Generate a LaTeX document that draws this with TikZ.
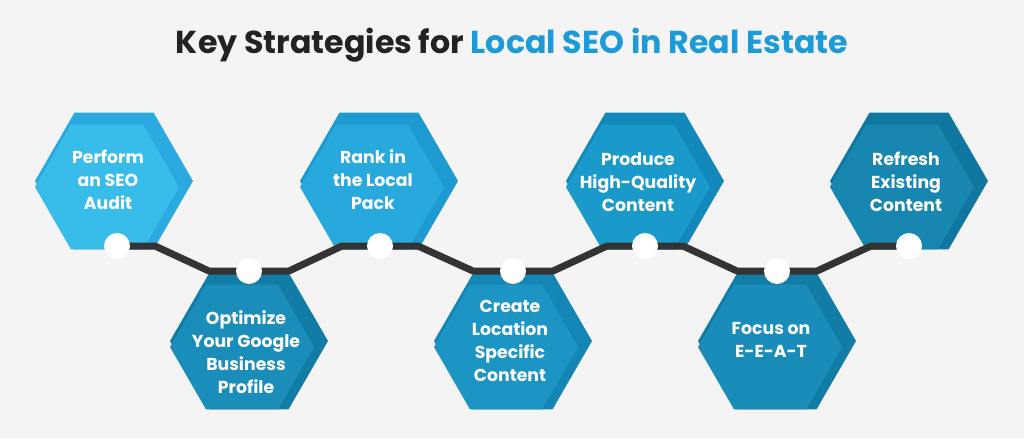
\documentclass[tikz,border=0pt]{standalone}
\usepackage{fontspec}
\setmainfont{Poppins}
\usetikzlibrary{calc, positioning}
\definecolor{bgc}{HTML}{F4F4F4}
\definecolor{ttl}{HTML}{222222}
\definecolor{ttb}{HTML}{1E9BD7}
\definecolor{lnk}{HTML}{333333}
\definecolor{inA}{HTML}{38BCEA}\definecolor{outA}{HTML}{2AAAE0}
\definecolor{inB}{HTML}{1B8DBA}\definecolor{outB}{HTML}{117DA7}
\definecolor{inC}{HTML}{28A9DD}\definecolor{outC}{HTML}{1D9AD0}
\definecolor{inD}{HTML}{1C95C4}\definecolor{outD}{HTML}{1386B5}
\definecolor{inE}{HTML}{1A9ACB}\definecolor{outE}{HTML}{1389BB}
\definecolor{inF}{HTML}{1A8CB9}\definecolor{outF}{HTML}{117DA7}
\definecolor{inG}{HTML}{1786B1}\definecolor{outG}{HTML}{0F77A0}
% hexagon: centre, outer colour, inner colour
\newcommand{\hexa}[3]{%
  \fill[#2] (#1) ++(79,0) -- ++(-39.5,-68.4) -- ++(-79,0) -- ++(-39.5,68.4)
    -- ++(39.5,68.4) -- ++(79,0) -- cycle;
  \fill[#3] ($(#1)+(-7,6)$) ++(72,0) -- ++(-36,-62.4) -- ++(-72,0) -- ++(-36,62.4)
    -- ++(36,62.4) -- ++(72,0) -- cycle;}
\begin{document}
\begin{tikzpicture}[x=1pt, y=-1pt,
    stage/.style={text=white, font=\fontsize{17.3}{23}\selectfont\bfseries, align=center},
    dot/.style={circle, fill=white, minimum size=26pt, inner sep=0pt},
    link/.style={lnk, line width=7pt, line join=round}]

    \fill[bgc] (0,0) rectangle (1024,439);
    \useasboundingbox (0,0) rectangle (1024,439);

    \node (title) at (512,45) {\fontsize{31.7}{36}\selectfont\bfseries
        \textcolor{ttl}{Key Strategies for} \textcolor{ttb}{Local SEO in Real Estate}};

    % hexagons, top row then bottom row
    \hexa{114,181}{outA}{inA}
    \hexa{249,341}{outB}{inB}
    \hexa{379,181}{outC}{inC}
    \hexa{513,341}{outD}{inD}
    \hexa{645,181}{outE}{inE}
    \hexa{777,341}{outF}{inF}
    \hexa{909,181}{outG}{inG}

    \node[stage] (s1) at (108,180) {Perform\\an SEO\\Audit};
    \node[stage] (s2) at (246,352) {Optimize\\Your Google\\Business\\Profile};
    \node[stage] (s3) at (373,180) {Rank in\\the Local\\Pack};
    \node[stage] (s4) at (510,341) {Create\\Location\\Specific\\Content};
    \node[stage] (s5) at (638,182) {Produce\\High-Quality\\Content};
    \node[stage] (s6) at (771,340) {Focus on\\E-E-A-T};
    \node[stage] (s7) at (906,182) {Refresh\\Existing\\Content};

    % connecting line and dots
    \coordinate (d1) at (117,246);
    \coordinate (d2) at (249,271);
    \coordinate (d3) at (380,246);
    \coordinate (d4) at (513,271);
    \coordinate (d5) at (645,246);
    \coordinate (d6) at (777,271);
    \coordinate (d7) at (909,246);
    \draw[link] (d1) -- ++(38,0) -- ($(d2)+(-40,0)$) -- (d2) -- ++(40,0)
        -- ($(d3)+(-38,0)$) -- (d3) -- ++(38,0) -- ($(d4)+(-40,0)$) -- (d4)
        -- ++(40,0) -- ($(d5)+(-38,0)$) -- (d5) -- ++(38,0) -- ($(d6)+(-40,0)$)
        -- (d6) -- ++(40,0) -- ($(d7)+(-38,0)$) -- (d7);
    \foreach \i in {1,...,7} \node[dot] (p\i) at (d\i) {};

\end{tikzpicture}
\end{document}
